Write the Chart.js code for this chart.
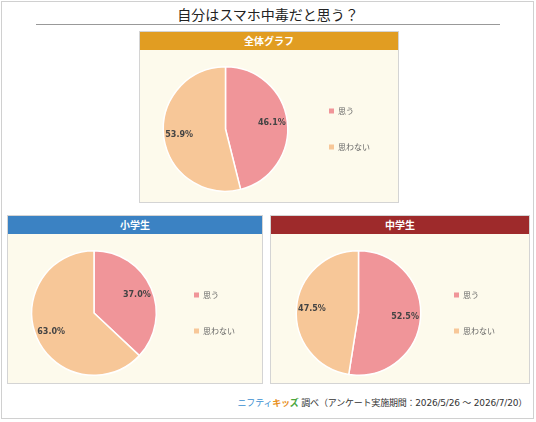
<!DOCTYPE html>
<html>
<head>
<meta charset="utf-8">
<script src="https://cdn.jsdelivr.net/npm/chart.js@4/dist/chart.umd.min.js"></script>
<style>
  html, body { margin: 0; padding: 0; background: #fff; }
  body { width: 536px; height: 422px; position: relative; overflow: hidden;
         font-family: "DejaVu Sans", "Noto Sans CJK JP", sans-serif; }
  .frame { position: absolute; left: 1px; top: 1px; width: 531px; height: 416px; border: 1px solid #d0d0d0; }
  .title { position: absolute; left: 36px; width: 464px; top: 4px; height: 20px; text-align: center;
           font-family: "Noto Sans CJK JP", sans-serif; font-size: 14px; color: #222; line-height: 20px;
           border-bottom: 1px solid #999; }
  .panel { position: absolute; border: 1px solid #d4d4d4; background: #fdfaec; }
  .panel .head { height: 18px; line-height: 18px; text-align: center; color: #fff; font-weight: bold;
                 font-size: 10px; font-family: "Noto Sans CJK JP", sans-serif; }
  .panel .body { position: relative; }
  .footer { position: absolute; right: 9px; top: 396px; font-size: 9px; color: #333; white-space: nowrap;
            letter-spacing: -0.2px; }
  .footer .nif { color: #3a8fd0; font-family: "Noto Sans CJK JP", sans-serif; }
  .footer .kid { color: #e8901c; font-weight: bold; font-family: "Noto Sans CJK JP", sans-serif; }
  .footer .kid .z { color: #4aa63c; }
  .footer .jp { font-family: "Noto Sans CJK JP", sans-serif; }
</style>
</head>
<body>
<div class="frame"></div>
<div class="title">自分はスマホ中毒だと思う？</div>

<div class="panel" id="p0" style="left:139px; top:31px; width:258px; height:170px;">
  <div class="head" style="background:#e19d22;">全体グラフ</div>
  <div class="body" style="width:258px; height:152px;"><canvas id="c0"></canvas></div>
</div>
<div class="panel" id="p1" style="left:7px; top:215px; width:254px; height:167px;">
  <div class="head" style="background:#3b82c3;">小学生</div>
  <div class="body" style="width:254px; height:149px;"><canvas id="c1"></canvas></div>
</div>
<div class="panel" id="p2" style="left:270px; top:215px; width:258px; height:167px;">
  <div class="head" style="background:#9e2a2b;">中学生</div>
  <div class="body" style="width:258px; height:149px;"><canvas id="c2"></canvas></div>
</div>

<div class="footer"><span class="nif">ニフティ</span><span class="kid">キッ<span class="z">ズ</span></span> <span class="jp">調べ（アンケート実施期間：</span>2026/5/26 <span class="jp">～</span> 2026/7/20<span class="jp">）</span></div>

<script>
// === Datos ===
const categories = ["思う", "思わない"];
const allValues = [46.1, 53.9];      // 全体グラフ
const elemValues = [37.0, 63.0];     // 小学生
const juniorValues = [52.5, 47.5];   // 中学生

const sliceColors = ["#f09599", "#f7c798"];

// etiquetas de porcentaje dentro de cada porción
const pctLabels = {
  id: "pctLabels",
  afterDatasetsDraw(chart) {
    const ctx = chart.ctx;
    const meta = chart.getDatasetMeta(0);
    const data = chart.data.datasets[0].data;
    ctx.save();
    ctx.font = "bold 8px 'DejaVu Sans', sans-serif";
    ctx.fillStyle = "#444";
    ctx.textAlign = "center";
    ctx.textBaseline = "middle";
    meta.data.forEach((arc, i) => {
      const p = arc.getProps(["x", "y", "startAngle", "endAngle", "outerRadius"], true);
      const mid = (p.startAngle + p.endAngle) / 2;
      const r = p.outerRadius * 0.75;
      ctx.fillText(data[i].toFixed(1) + "%", p.x + Math.cos(mid) * r, p.y + Math.sin(mid) * r);
    });
    ctx.restore();
  }
};

// leyenda sin borde blanco en los cuadritos
function leyendaLabels(chart) {
  const base = Chart.overrides.pie.plugins.legend.labels.generateLabels(chart);
  return base.map(l => ({ ...l, lineWidth: 0, strokeStyle: l.fillStyle }));
}

function crearPie(id, values, pad) {
  return new Chart(document.getElementById(id), {
    type: "pie",
    data: {
      labels: categories,
      datasets: [{
        data: values,
        backgroundColor: sliceColors,
        borderColor: "#ffffff",
        borderWidth: 1.5
      }]
    },
    options: {
      responsive: true,
      maintainAspectRatio: false,
      animation: false,
      layout: { padding: pad },
      plugins: {
        legend: {
          position: "right",
          align: "center",
          labels: {
            boxWidth: 5,
            boxHeight: 5,
            padding: 28,
            color: "#666",
            font: { size: 8, family: "'Noto Sans CJK JP', sans-serif" },
            generateLabels: leyendaLabels
          }
        },
        tooltip: { enabled: false }
      }
    },
    plugins: [pctLabels]
  });
}

crearPie("c0", allValues, { left: 10, right: 18, top: 16, bottom: 10 });
crearPie("c1", elemValues, { left: 14, right: 17, top: 16, bottom: 7 });
crearPie("c2", juniorValues, { left: 20, right: 24, top: 16, bottom: 7 });
</script>
</body>
</html>
